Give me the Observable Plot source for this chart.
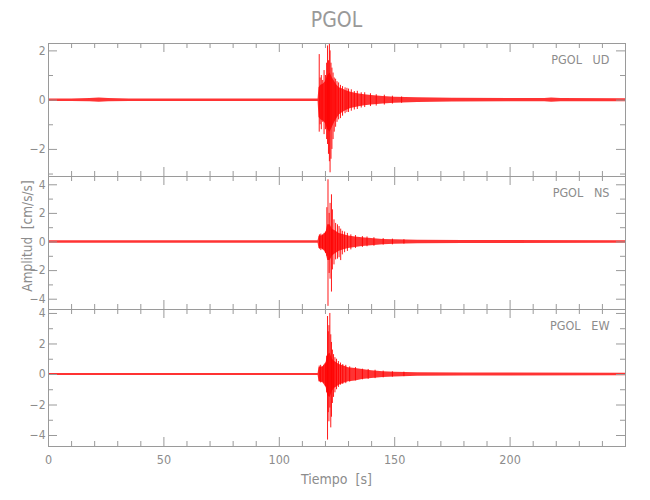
<!DOCTYPE html>
<html><head><meta charset="utf-8">
<script src="https://cdn.jsdelivr.net/npm/d3@7"></script>
<script src="https://cdn.jsdelivr.net/npm/@observablehq/plot@0.6"></script>
<style>
body{margin:0;background:#fff;}
#chart{position:relative;width:650px;height:500px;font-family:"DejaVu Sans Condensed","DejaVu Sans",sans-serif;font-stretch:condensed;color:#8a8a8a;overflow:hidden;}
.abs{position:absolute;white-space:pre;}
#chart svg{position:absolute;left:0;}
</style></head><body><div id="chart"></div>
<script>
// ---- text ----
const title = "PGOL";
const station = "PGOL";
const components = ["UD", "NS", "EW"];
const xLabel = "Tiempo  [s]";
const yLabel = "Amplitud  [cm/s/s]";

// ---- axes ----
const xDomain = [0, 250];
const xMajorTicks = [0, 50, 100, 150, 200];
const xMinorTicks = [10, 20, 30, 40, 60, 70, 80, 90, 110, 120, 130, 140, 160, 170, 180, 190, 210, 220, 230, 240];
const yDomainUD = [-3.1, 2.3];
const yDomainNS = [-4.72, 4.58];
const yDomainEW = [-4.72, 4.26];
const yMajorUD = [-2, 0, 2];
const yMinorUD = [-3, -1, 1];
const yMajorNS = [-4, -2, 0, 2, 4];
const yMinorNS = [-3, -1, 1, 3];
const yMajorEW = [-4, -2, 0, 2, 4];
const yMinorEW = [-3, -1, 1, 3];

// ---- UD: envelope band (s, cm/s/s) ----
const bandT_UD  = [0, 10, 18, 22, 26, 35, 60, 90, 116.8, 117.2, 118, 119, 120, 121, 122, 123, 124, 125, 126, 127.5, 129, 131, 134, 137, 140, 145, 150, 160, 175, 200, 215, 218, 222, 250];
const bandUp_UD = [0.05, 0.05, 0.07, 0.09, 0.07, 0.05, 0.05, 0.05, 0.05, 0.5, 0.6, 0.65, 0.75, 1.0, 1.1, 0.9, 0.75, 0.6, 0.5, 0.45, 0.38, 0.32, 0.26, 0.22, 0.19, 0.15, 0.12, 0.1, 0.08, 0.07, 0.07, 0.09, 0.07, 0.06];
const bandLo_UD = [-0.05, -0.05, -0.07, -0.09, -0.07, -0.05, -0.05, -0.05, -0.05, -0.7, -0.8, -0.85, -0.95, -1.2, -1.3, -1.1, -0.9, -0.75, -0.6, -0.5, -0.42, -0.34, -0.28, -0.23, -0.2, -0.16, -0.13, -0.1, -0.08, -0.07, -0.07, -0.09, -0.07, -0.06];
// ---- UD: individual peaks ----
const spikeT_UD  = [117.3, 117.7, 118.2, 118.8, 119.4, 120.0, 120.5, 120.9, 121.3, 121.7, 122.0, 122.4, 122.8, 123.3, 123.8, 124.4, 125.0, 125.7, 126.5, 127.4, 128.5, 129.3, 130.0, 131.2, 132.5, 133.8, 135.5, 137.0, 139.5, 142.0, 145.5, 149.0, 153.0];
const spikeUp_UD = [1.85, 0.9, 1.0, 0.8, 1.2, 1.0, 1.5, 2.2, 1.6, 2.35, 2.0, 1.5, 1.3, 1.1, 0.9, 0.85, 0.75, 0.7, 0.6, 0.55, 0.5, 0.48, 0.45, 0.42, 0.35, 0.36, 0.3, 0.3, 0.26, 0.22, 0.2, 0.16, 0.13];
const spikeLo_UD = [-1.3, -1.0, -1.2, -0.9, -1.4, -1.2, -1.6, -1.8, -2.2, -2.5, -2.95, -2.4, -2.0, -1.6, -1.3, -1.1, -0.9, -0.8, -0.75, -0.65, -0.55, -0.5, -0.5, -0.45, -0.4, -0.38, -0.32, -0.3, -0.26, -0.24, -0.2, -0.16, -0.13];

// ---- NS ----
const bandT_NS  = [0, 30, 60, 90, 116.8, 117.2, 119, 120.3, 121, 122, 123, 124, 125, 126, 128, 130, 133, 136, 140, 145, 150, 160, 180, 250];
const bandUp_NS = [0.08, 0.08, 0.08, 0.08, 0.08, 0.4, 0.45, 0.7, 1.2, 1.2, 0.9, 0.8, 0.7, 0.6, 0.5, 0.42, 0.35, 0.3, 0.25, 0.18, 0.15, 0.12, 0.1, 0.09];
const bandLo_NS = [-0.08, -0.08, -0.08, -0.08, -0.08, -0.45, -0.5, -0.8, -1.3, -1.3, -1.0, -0.85, -0.75, -0.65, -0.55, -0.45, -0.38, -0.32, -0.26, -0.19, -0.16, -0.12, -0.1, -0.09];
const spikeT_NS  = [117.4, 118.0, 118.7, 119.4, 120.0, 120.6, 121.1, 121.6, 122.0, 122.6, 123.0, 123.7, 124.4, 125.2, 125.9, 126.6, 127.3, 128.3, 129.5, 131.0, 133.0, 136.0, 138.0, 141.0, 145.0, 149.0, 154.0];
const spikeUp_NS = [0.5, 0.55, 0.5, 0.6, 0.7, 2.4, 4.35, 2.0, 2.7, 3.3, 2.25, 1.55, 1.3, 1.2, 1.08, 0.9, 0.75, 0.7, 0.6, 0.5, 0.45, 0.38, 0.35, 0.3, 0.24, 0.2, 0.16];
const spikeLo_NS = [-0.5, -0.6, -0.55, -0.6, -0.8, -1.0, -4.5, -2.2, -2.6, -3.5, -1.95, -1.6, -1.25, -1.2, -1.1, -1.3, -0.9, -0.75, -0.66, -0.55, -0.45, -0.38, -0.33, -0.3, -0.22, -0.2, -0.15];

// ---- EW ----
const bandT_EW  = [0, 30, 60, 90, 116.8, 117.2, 119, 120.3, 121, 122, 123, 124, 125, 126, 128, 130, 133, 136, 140, 145, 150, 160, 180, 250];
const bandUp_EW = [0.07, 0.07, 0.07, 0.07, 0.07, 0.45, 0.5, 0.8, 1.3, 1.4, 1.0, 0.85, 0.75, 0.65, 0.55, 0.45, 0.4, 0.32, 0.25, 0.18, 0.15, 0.12, 0.1, 0.08];
const bandLo_EW = [-0.07, -0.07, -0.07, -0.07, -0.07, -0.45, -0.55, -0.85, -1.4, -1.5, -1.1, -0.9, -0.8, -0.7, -0.58, -0.48, -0.42, -0.33, -0.26, -0.19, -0.16, -0.12, -0.1, -0.08];
const spikeT_EW  = [117.3, 117.9, 118.6, 119.3, 120.0, 120.5, 120.9, 121.2, 121.5, 121.9, 122.3, 122.6, 123.0, 123.5, 124.1, 124.8, 125.6, 126.5, 127.5, 128.8, 130.5, 133.0, 136.0, 138.5, 141.5, 145.0, 149.0, 154.0];
const spikeUp_EW = [0.55, 0.6, 0.5, 0.6, 0.7, 1.2, 3.8, 2.8, 3.2, 4.0, 2.6, 2.1, 1.6, 1.3, 1.1, 1.0, 0.85, 0.75, 0.65, 0.6, 0.5, 0.45, 0.35, 0.33, 0.28, 0.22, 0.18, 0.15];
const spikeLo_EW = [-0.5, -0.55, -0.5, -0.6, -0.8, -1.2, -4.3, -2.5, -3.1, -2.2, -3.5, -2.8, -1.9, -1.5, -1.2, -1.0, -0.85, -0.7, -0.65, -0.6, -0.5, -0.42, -0.35, -0.32, -0.27, -0.22, -0.18, -0.14];

// ---- layout / style ----
const W = 650, ML = 48, MR = 25;
const PW = W - ML - MR;
const AX = "#9a9a9a";
const TXT = "#8c8c8c";
const FONT = '"DejaVu Sans Condensed","DejaVu Sans",sans-serif';

function panel({comp, bandT, bandUp, bandLo, spikeT, spikeUp, spikeLo, yDomain, yMajor, yMinor, h, showX}) {
  const band = bandT.map((t, i) => ({t, up: bandUp[i], lo: bandLo[i]}));
  const spikes = spikeT.map((t, i) => ({t, up: spikeUp[i], lo: spikeLo[i]}));
  const mB = showX ? 34 : 0;
  const fmt = d => d < 0 ? "\u2212" + (-d) : String(d);
  const marks = [
    Plot.areaY(band, {x: "t", y1: "lo", y2: "up", fill: "#ff0000", fillOpacity: 0.8, clip: true, curve: "linear"}),
    Plot.ruleX(spikes, {x: "t", y1: "lo", y2: "up", stroke: "#ff0000", strokeWidth: 1, strokeOpacity: 0.9, clip: true}),
    Plot.frame({stroke: AX}),
    Plot.ruleX(xMajorTicks.concat([250]), {x: d => d, insetBottom: h - 9, stroke: AX}),
    Plot.ruleX(xMinorTicks, {x: d => d, insetBottom: h - 5, stroke: AX}),
    Plot.ruleX(xMajorTicks.concat([250]), {x: d => d, insetTop: h - 9, stroke: AX}),
    Plot.ruleX(xMinorTicks, {x: d => d, insetTop: h - 5, stroke: AX}),
    Plot.ruleY(yMajor, {y: d => d, insetRight: PW - 9, stroke: AX}),
    Plot.ruleY(yMinor, {y: d => d, insetRight: PW - 5, stroke: AX}),
    Plot.ruleY(yMajor, {y: d => d, insetLeft: PW - 9, stroke: AX}),
    Plot.ruleY(yMinor, {y: d => d, insetLeft: PW - 5, stroke: AX}),
    Plot.text(yMajor, {y: d => d, frameAnchor: "left", dx: -3, textAnchor: "end", text: fmt, fill: TXT, fontSize: 12}),
    Plot.text([station + "\u00a0\u00a0\u00a0" + comp], {frameAnchor: "top-right", dx: -16, dy: 12, lineAnchor: "top", fill: TXT, fontSize: 12.5})
  ];
  if (showX) {
    marks.push(Plot.text(xMajorTicks, {x: d => d, frameAnchor: "bottom", dy: 9, lineAnchor: "top", text: d => String(d), fill: TXT, fontSize: 12.5}));
  }
  return Plot.plot({
    width: W, height: h + mB,
    marginLeft: ML, marginRight: MR, marginTop: 0, marginBottom: mB,
    x: {domain: xDomain, axis: null},
    y: {domain: yDomain, axis: null},
    style: {fontFamily: FONT, fontStretch: "condensed", background: "transparent", overflow: "visible"},
    marks
  });
}

const root = document.getElementById("chart");

const t = document.createElement("div");
t.className = "abs";
t.style.cssText = `left:${ML}px;width:${PW}px;top:8px;text-align:center;font-size:21px;color:#999;`;
t.textContent = title;
root.appendChild(t);

const specs = [
  {comp: components[0], bandT: bandT_UD, bandUp: bandUp_UD, bandLo: bandLo_UD, spikeT: spikeT_UD, spikeUp: spikeUp_UD, spikeLo: spikeLo_UD, yDomain: yDomainUD, yMajor: yMajorUD, yMinor: yMinorUD, h: 133, top: 43, showX: false},
  {comp: components[1], bandT: bandT_NS, bandUp: bandUp_NS, bandLo: bandLo_NS, spikeT: spikeT_NS, spikeUp: spikeUp_NS, spikeLo: spikeLo_NS, yDomain: yDomainNS, yMajor: yMajorNS, yMinor: yMinorNS, h: 133, top: 176, showX: false},
  {comp: components[2], bandT: bandT_EW, bandUp: bandUp_EW, bandLo: bandLo_EW, spikeT: spikeT_EW, spikeUp: spikeUp_EW, spikeLo: spikeLo_EW, yDomain: yDomainEW, yMajor: yMajorEW, yMinor: yMinorEW, h: 137, top: 309, showX: true}
];
for (const s of specs) {
  const svg = panel(s);
  svg.style.top = s.top + "px";
  root.appendChild(svg);
}

const xl = document.createElement("div");
xl.className = "abs";
xl.style.cssText = `left:${ML}px;width:${PW}px;top:471px;text-align:center;font-size:14px;color:${TXT};`;
xl.textContent = xLabel;
root.appendChild(xl);

const yl = document.createElement("div");
yl.className = "abs";
yl.style.cssText = `left:27px;top:236px;transform:translate(-50%,-50%) rotate(-90deg);font-size:13.5px;color:${TXT};`;
yl.textContent = yLabel;
root.appendChild(yl);
</script></body></html>
